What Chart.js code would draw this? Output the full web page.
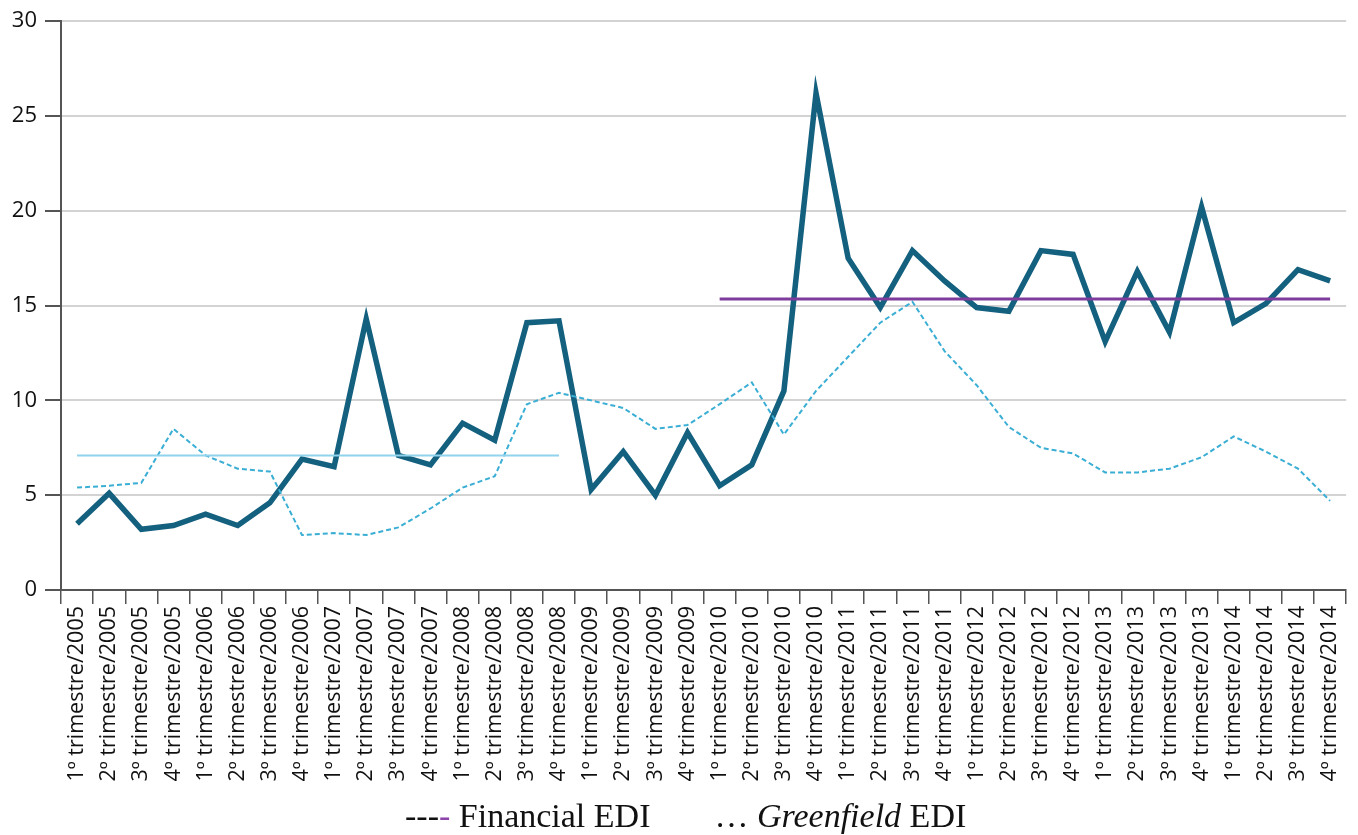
<!DOCTYPE html>
<html>
<head>
<meta charset="utf-8">
<script src="https://cdn.jsdelivr.net/npm/chart.js@4"></script>
<style>
  html, body { margin: 0; padding: 0; background: #fff; overflow: hidden; }
  #wrap { position: relative; width: 1358px; height: 835px; }
  #legend {
    position: absolute; left: 405px; top: 796px; line-height: 40px;
    font-family: "Liberation Serif", serif; font-size: 34px; color: #111;
    white-space: nowrap;
  }
  #legend .gap { display: inline-block; width: 64px; }
</style>
</head>
<body>
<div id="wrap">
  <canvas id="myChart" width="1358" height="835"></canvas>
  <div id="legend">---<span style="color:#8e44ad">-</span> Financial EDI<span class="gap"></span>… <i>Greenfield</i> EDI</div>
</div>
<script>
const years = [2005, 2006, 2007, 2008, 2009, 2010, 2011, 2012, 2013, 2014];
const quarters = ['1º', '2º', '3º', '4º'];
const labels = [];
years.forEach(y => quarters.forEach(q => labels.push(`${q} trimestre/${y}`)));

const financial = [3.5, 5.1, 3.2, 3.4, 4.0, 3.4, 4.6, 6.9, 6.5, 14.3,
                   7.1, 6.6, 8.8, 7.9, 14.1, 14.2, 5.3, 7.3, 5.0, 8.3,
                   5.5, 6.6, 10.5, 26.2, 17.5, 14.9, 17.9, 16.3, 14.9, 14.7,
                   17.9, 17.7, 13.1, 16.8, 13.6, 20.2, 14.1, 15.1, 16.9, 16.3];
const greenfield = [5.4, 5.5, 5.65, 8.5, 7.1, 6.4, 6.25, 2.9, 3.0, 2.9,
                    3.3, 4.3, 5.4, 6.0, 9.8, 10.4, 10.0, 9.6, 8.5, 8.7,
                    9.8, 10.95, 8.2, 10.5, 12.3, 14.1, 15.2, 12.6, 10.8, 8.6,
                    7.5, 7.2, 6.2, 6.2, 6.4, 7.0, 8.1, 7.3, 6.4, 4.7];
// period averages
const greenfieldAvg = 7.1;
const greenfieldAvgRange = [0, 15];
const financialAvg = 15.35;
const financialAvgRange = [20, 39];
const yTicks = [0, 5, 10, 15, 20, 25, 30];

const flat = (v, r) => labels.map((_, i) => (i >= r[0] && i <= r[1]) ? v : null);

const ctx = document.getElementById('myChart').getContext('2d');
const myChart = new Chart(ctx, {
    type: 'line',
    data: {
        labels: labels,
        datasets: [
            { label: 'Greenfield média', data: flat(greenfieldAvg, greenfieldAvgRange),
              borderColor: '#8fd3ec', borderWidth: 2, pointRadius: 0, spanGaps: false },
            { label: 'Financial média', data: flat(financialAvg, financialAvgRange),
              borderColor: '#7e3d9c', borderWidth: 3, pointRadius: 0, spanGaps: false },
            { label: 'Greenfield EDI', data: greenfield,
              borderColor: '#3aaed4', borderWidth: 2, borderDash: [5, 3], pointRadius: 0 },
            { label: 'Financial EDI', data: financial,
              borderColor: '#14607f', borderWidth: 5.5, pointRadius: 0, borderJoinStyle: 'miter' }
        ]
    },
    options: {
        responsive: false,
        animation: false,
        layout: { padding: { top: 18, right: 8, left: 0, bottom: 0 } },
        plugins: { legend: { display: false }, tooltip: { enabled: false } },
        scales: {
            x: {
                offset: true,
                grid: {
                    offset: true,
                    color: c => c.index === labels.length ? '#d0d0d0' : 'rgba(0,0,0,0)',
                    tickColor: '#555',
                    tickLength: 14,
                    lineWidth: 1.5
                },
                border: { color: '#555', width: 2 },
                ticks: {
                    autoSkip: false, minRotation: 90, maxRotation: 90,
                    color: '#111', padding: 2,
                    font: { family: '"Open Sans", sans-serif', size: 21.5 }
                },
                afterFit: s => { s.height = 245; }
            },
            y: {
                min: 0, max: 30,
                afterBuildTicks: s => { s.ticks = yTicks.map(v => ({ value: v })); },
                grid: { color: '#d3d3d3', lineWidth: 2, tickColor: '#555', tickLength: 16 },
                border: { color: '#555', width: 2 },
                ticks: { color: '#111', padding: 8,
                         font: { family: '"Open Sans", sans-serif', size: 22 } },
                afterFit: s => { s.width = 61; }
            }
        }
    }
});
</script>
</body>
</html>
